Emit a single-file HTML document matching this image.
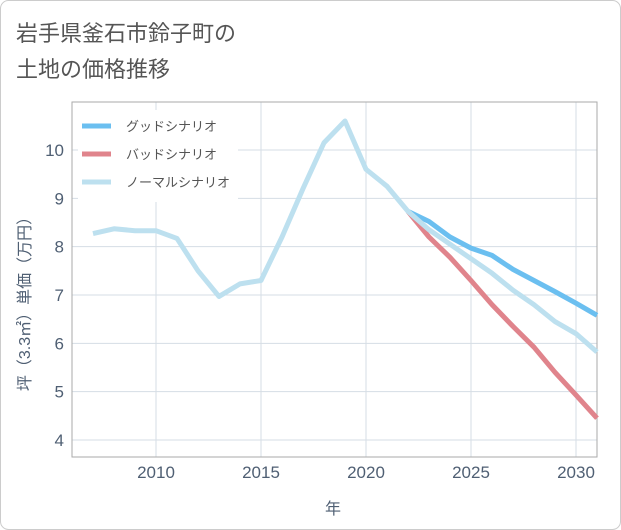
<!DOCTYPE html>
<html><head><meta charset="utf-8"><style>
body{margin:0;background:#fff;font-family:"Liberation Sans","Noto Sans CJK JP",sans-serif}
#c{position:absolute;left:0;top:0;width:621px;height:530px}
</style></head><body>
<svg id="c" width="621" height="530" font-family="Liberation Sans, Noto Sans CJK JP, sans-serif">
<rect x="0.5" y="0.5" width="620" height="529" rx="8" fill="#fff" stroke="#ccc"/>
<text x="16" y="41" font-size="22" fill="#555">岩手県釜石市鈴子町の</text>
<text x="16" y="77" font-size="22" fill="#555">土地の価格推移</text>
<g id="grid"></g>
<rect x="72" y="102" width="525" height="355" fill="none" stroke="#aaa"/>
<g id="series"></g>
<g id="axes"></g>
<g>
<rect x="78" y="110" width="160" height="92" fill="#fff"/>
<line x1="82" y1="126" x2="111" y2="126" stroke="#6bbff0" stroke-width="5"/>
<text x="126" y="131" font-size="13" fill="#555">グッドシナリオ</text>
<line x1="82" y1="154" x2="111" y2="154" stroke="#e0848c" stroke-width="5"/>
<text x="126" y="159" font-size="13" fill="#555">バッドシナリオ</text>
<line x1="82" y1="182" x2="111" y2="182" stroke="#bde0ef" stroke-width="5"/>
<text x="126" y="187" font-size="13" fill="#555">ノーマルシナリオ</text>
</g>
<text x="333" y="514" font-size="16" fill="#4f5f73" text-anchor="middle">年</text>
<text transform="translate(30,300) rotate(-90)" font-size="16" fill="#4f5f73" text-anchor="middle">坪（3.3㎡）単価（万円）</text>
</svg>
<script>
const normalYears=[2007,2008,2009,2010,2011,2012,2013,2014,2015,2016,2017,2018,2019,2020,2021,2022,2023,2024,2025,2026,2027,2028,2029,2030,2031];
const normalValues=[8.27,8.37,8.33,8.33,8.17,7.5,6.97,7.23,7.3,8.2,9.2,10.15,10.6,9.6,9.25,8.73,8.35,8.05,7.75,7.45,7.1,6.8,6.45,6.2,5.82];
const scenarioYears=[2022,2023,2024,2025,2026,2027,2028,2029,2030,2031];
const goodValues=[8.73,8.52,8.2,7.97,7.82,7.53,7.3,7.07,6.83,6.58];
const badValues=[8.73,8.2,7.78,7.3,6.8,6.35,5.92,5.4,4.93,4.45];
const xTicks=[2010,2015,2020,2025,2030];
const yTicks=[4,5,6,7,8,9,10];
const NS='http://www.w3.org/2000/svg';
const xs=y=>156+(y-2010)*21;
const ys=v=>150+(10-v)*48.33;
function mk(t,a,p){const e=document.createElementNS(NS,t);for(const k in a)e.setAttribute(k,a[k]);p.appendChild(e);return e;}
const grid=document.getElementById('grid'),axes=document.getElementById('axes'),ser=document.getElementById('series');
yTicks.forEach(v=>{const l=mk('line',{x1:72,x2:597,y1:ys(v),y2:ys(v),stroke:'#d5dde5'},grid);


const t=mk('text',{x:64,y:ys(v)+6,'font-size':17,fill:'#4f5f73','text-anchor':'end'},axes);t.textContent=v;

});
xTicks.forEach(y=>{const l=mk('line',{x1:xs(y),x2:xs(y),y1:102,y2:457,stroke:'#d5dde5'},grid);


const t=mk('text',{x:xs(y),y:478,'font-size':17,fill:'#4f5f73','text-anchor':'middle'},axes);t.textContent=y;

});
function line(yrs,vals,col,name){const p=mk('polyline',{points:yrs.map((y,i)=>xs(y)+','+ys(vals[i])).join(' '),fill:'none',stroke:col,'stroke-width':5,'stroke-linejoin':'round'},ser);

}
line(scenarioYears,goodValues,'#6bbff0','good-scenario-line');
line(scenarioYears,badValues,'#e0848c','bad-scenario-line');
line(normalYears,normalValues,'#bde0ef','normal-scenario-line');
</script>
</body></html>
